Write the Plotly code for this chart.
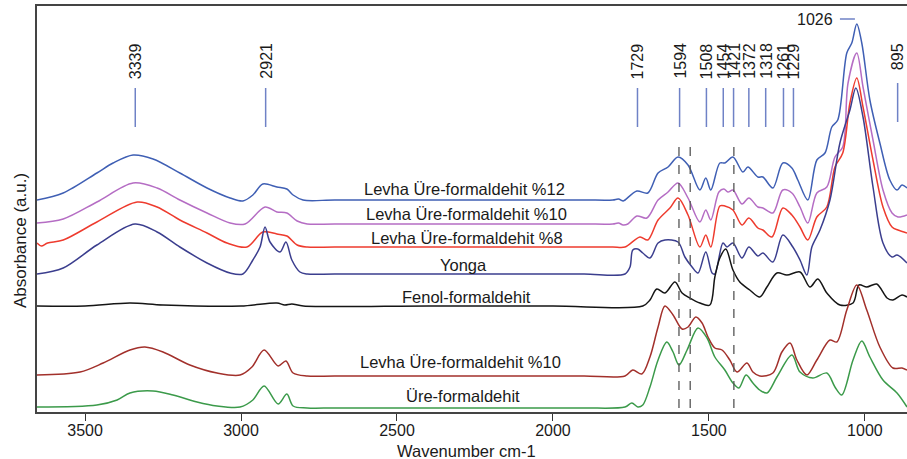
import plotly.graph_objects as go

# ---------------- data (wavenumber cm-1, absorbance a.u.) ----------------
wn_l12 = [3654, 3570, 3462, 3410, 3346, 3282, 3196, 3109, 3035, 2994, 2962, 2930, 2885, 2853, 2833, 2801,
          2700, 2400, 2100, 1900, 1808, 1790, 1775, 1769, 1731, 1696, 1663, 1631, 1599, 1567, 1529, 1510,
          1494, 1465, 1449, 1423, 1391, 1375, 1343, 1327, 1295, 1263, 1234, 1215, 1183, 1154, 1128, 1106,
          1087, 1058, 1042, 1026, 1010, 984, 952, 920, 897, 881, 865]
ab_l12 = [2.12, 2.19, 2.39, 2.49, 2.57, 2.53, 2.39, 2.24, 2.14, 2.11, 2.17, 2.28, 2.25, 2.23, 2.17, 2.12,
          2.12, 2.12, 2.12, 2.12, 2.12, 2.13, 2.11, 2.12, 2.21, 2.19, 2.39, 2.45, 2.55, 2.47, 2.22, 2.34,
          2.22, 2.49, 2.49, 2.55, 2.40, 2.45, 2.35, 2.35, 2.24, 2.49, 2.44, 2.32, 2.12, 2.52, 2.59, 2.85,
          2.92, 3.59, 3.69, 3.88, 3.69, 3.12, 2.69, 2.32, 2.22, 2.27, 2.24]

wn_l10 = [3654, 3570, 3462, 3346, 3269, 3196, 3109, 3035, 2987, 2923, 2885, 2853, 2820, 2788,
          2700, 2400, 2100, 1900, 1808, 1790, 1775, 1760, 1731, 1699, 1663, 1631, 1599, 1567, 1529, 1510,
          1494, 1468, 1452, 1439, 1423, 1394, 1372, 1343, 1327, 1295, 1263, 1234, 1208, 1183, 1154, 1122,
          1096, 1071, 1054, 1026, 1006, 974, 942, 913, 894, 865]
ab_l10 = [1.89, 1.93, 2.10, 2.29, 2.24, 2.12, 1.99, 1.89, 1.88, 2.05, 2.00, 1.99, 1.91, 1.88,
          1.88, 1.88, 1.88, 1.88, 1.88, 1.89, 1.87, 1.88, 1.96, 1.94, 2.12, 2.20, 2.29, 2.14, 1.90, 2.02,
          1.92, 2.20, 2.23, 2.20, 2.22, 2.08, 2.14, 2.05, 2.04, 1.99, 2.22, 2.19, 2.05, 1.89, 2.19, 2.25,
          2.55, 2.65, 3.29, 3.59, 3.25, 2.72, 2.22, 1.99, 1.95, 1.97]

wn_l8 = [3654, 3640, 3620, 3570, 3462, 3333, 3269, 3196, 3109, 3045, 2981, 2930, 2885, 2853, 2820, 2788,
         2700, 2400, 2100, 1900, 1808, 1769, 1721, 1696, 1663, 1625, 1599, 1567, 1529, 1510, 1494, 1465,
         1449, 1423, 1394, 1372, 1343, 1327, 1298, 1263, 1234, 1208, 1183, 1154, 1122, 1096, 1071, 1048,
         1026, 1006, 974, 942, 913, 894, 865]
ab_l8 = [1.69, 1.66, 1.69, 1.72, 1.90, 2.10, 2.05, 1.92, 1.79, 1.69, 1.65, 1.80, 1.78, 1.76, 1.67, 1.65,
         1.65, 1.65, 1.65, 1.65, 1.65, 1.65, 1.75, 1.72, 1.92, 2.04, 2.14, 1.97, 1.65, 1.77, 1.65, 2.06,
         2.06, 2.02, 1.87, 1.94, 1.84, 1.82, 1.75, 2.04, 1.97, 1.85, 1.72, 1.95, 2.05, 2.45, 2.59, 3.09,
         3.34, 3.05, 2.52, 2.05, 1.85, 1.82, 1.79]

wn_yonga = [3654, 3570, 3462, 3340, 3269, 3196, 3109, 3035, 2994, 2962, 2939, 2923, 2907, 2875, 2856, 2837,
            2811, 2788, 2700, 2400, 2100, 1900, 1769, 1753, 1744, 1728, 1712, 1689, 1663, 1641, 1599, 1577,
            1554, 1535, 1510, 1490, 1481, 1455, 1442, 1423, 1394, 1372, 1343, 1327, 1295, 1263, 1231, 1208,
            1186, 1170, 1144, 1112, 1080, 1048, 1029, 1006, 974, 942, 913, 897, 865]
ab_yonga = [1.38, 1.44, 1.67, 1.88, 1.80, 1.65, 1.49, 1.39, 1.38, 1.52, 1.65, 1.85, 1.70, 1.60, 1.70, 1.52,
            1.40, 1.38, 1.38, 1.38, 1.38, 1.38, 1.38, 1.45, 1.62, 1.63, 1.59, 1.54, 1.69, 1.72, 1.70, 1.55,
            1.45, 1.39, 1.60, 1.39, 1.38, 1.69, 1.65, 1.69, 1.54, 1.65, 1.56, 1.59, 1.50, 1.77, 1.65, 1.52,
            1.37, 1.65, 1.82, 2.12, 2.69, 3.02, 3.24, 2.95, 2.25, 1.69, 1.55, 1.57, 1.49]

wn_fenol = [3654, 3500, 3356, 3250, 3000, 2885, 2860, 2837, 2800, 2400, 2000, 1712, 1689, 1667, 1641, 1609,
            1586, 1561, 1529, 1497, 1481, 1465, 1446, 1423, 1401, 1369, 1337, 1314, 1282, 1250, 1208, 1176,
            1151, 1122, 1080, 1038, 1019, 994, 962, 929, 910, 881, 865]
ab_fenol = [1.06, 1.06, 1.09, 1.07, 1.06, 1.09, 1.07, 1.08, 1.06, 1.06, 1.06, 1.06, 1.12, 1.23, 1.19, 1.30,
            1.19, 1.14, 1.09, 1.07, 1.35, 1.54, 1.63, 1.42, 1.30, 1.22, 1.15, 1.25, 1.39, 1.37, 1.40, 1.25,
            1.33, 1.19, 1.07, 1.09, 1.27, 1.25, 1.28, 1.14, 1.12, 1.17, 1.15]

wn_l10b = [3654, 3516, 3442, 3356, 3308, 3250, 3164, 3077, 3003, 2965, 2926, 2881, 2856, 2833, 2788,
           2700, 2400, 2100, 1900, 1769, 1744, 1715, 1689, 1663, 1641, 1615, 1586, 1567, 1542, 1522, 1503,
           1481, 1458, 1433, 1410, 1378, 1359, 1337, 1295, 1266, 1240, 1218, 1186, 1154, 1112, 1090, 1058,
           1026, 994, 952, 910, 881, 865]
ab_l10b = [0.37, 0.40, 0.49, 0.62, 0.65, 0.60, 0.47, 0.39, 0.37, 0.45, 0.62, 0.46, 0.51, 0.39, 0.36,
           0.36, 0.36, 0.36, 0.36, 0.36, 0.42, 0.38, 0.55, 0.85, 1.06, 0.97, 0.83, 0.85, 0.95, 0.89, 0.75,
           0.64, 0.62, 0.52, 0.40, 0.49, 0.40, 0.36, 0.39, 0.60, 0.69, 0.52, 0.37, 0.52, 0.72, 0.70, 1.02,
           1.27, 1.02, 0.65, 0.44, 0.44, 0.42]

wn_ure = [3654, 3462, 3397, 3356, 3282, 3218, 3141, 3077, 3003, 2962, 2926, 2881, 2853, 2833, 2788,
          2700, 2400, 2100, 1900, 1769, 1747, 1728, 1712, 1689, 1663, 1635, 1615, 1596, 1570, 1535, 1506,
          1481, 1449, 1423, 1404, 1381, 1359, 1337, 1314, 1282, 1234, 1208, 1167, 1122, 1096, 1074, 1038,
          1010, 984, 942, 897, 865]
ab_ure = [0.05, 0.07, 0.12, 0.19, 0.21, 0.17, 0.10, 0.06, 0.05, 0.12, 0.26, 0.08, 0.18, 0.06, 0.04,
          0.04, 0.04, 0.04, 0.04, 0.05, 0.09, 0.05, 0.07, 0.25, 0.52, 0.70, 0.60, 0.47, 0.62, 0.84, 0.74,
          0.55, 0.42, 0.29, 0.24, 0.37, 0.29, 0.22, 0.19, 0.35, 0.57, 0.40, 0.34, 0.39, 0.25, 0.17, 0.52,
          0.71, 0.55, 0.32, 0.19, 0.05]

series_names = ["Levha Üre-formaldehit %12", "Levha Üre-formaldehit %10", "Levha Üre-formaldehit %8",
                "Yonga", "Fenol-formaldehit", "Levha Üre-formaldehit %10", "Üre-formaldehit"]
series_wn = [wn_l12, wn_l10, wn_l8, wn_yonga, wn_fenol, wn_l10b, wn_ure]
series_ab = [ab_l12, ab_l10, ab_l8, ab_yonga, ab_fenol, ab_l10b, ab_ure]
series_colors = ["#3f5fb4", "#b56dc4", "#ee3b2e", "#3b3e8e", "#151515", "#a2302b", "#3b9a4a"]
# label positions (wavenumber, absorbance)
label_wn = [2282, 2276, 2276, 2288, 2276, 2295, 2288]
label_ab = [2.23, 1.98, 1.74, 1.47, 1.15, 0.50, 0.16]

peak_labels = [3339, 2921, 1729, 1594, 1508, 1454, 1421, 1372, 1318, 1261, 1229]
dashed_wn = [1596, 1560, 1420]

x_ticks = [3500, 3000, 2500, 2000, 1500, 1000]

FONT = "Liberation Sans, Arial, sans-serif"
TXT = "#1a1a1a"

fig = go.Figure()
for name, w, a, c in zip(series_names, series_wn, series_ab, series_colors):
    fig.add_trace(go.Scatter(x=w, y=a, mode="lines", name=name,
                             line=dict(color=c, width=1.5, shape="spline", smoothing=0.9),
                             showlegend=False, hoverinfo="skip"))

ann = []
for name, lx, ly in zip(series_names, label_wn, label_ab):
    ann.append(dict(x=lx, y=ly, xref="x", yref="y", text=name, showarrow=False,
                    font=dict(family=FONT, size=16.5, color=TXT), xanchor="center", yanchor="middle"))

shapes = []
LINE_C = "#6f82c6"
for p in peak_labels:
    ann.append(dict(x=p, y=3.31, xref="x", yref="y", text=str(p), showarrow=False, textangle=-90,
                    font=dict(family=FONT, size=16, color=TXT), xanchor="center", yanchor="bottom"))
    shapes.append(dict(type="line", xref="x", yref="y", x0=p, x1=p, y0=2.85, y1=3.24,
                       line=dict(color=LINE_C, width=1.5)))
# 895 label (slightly higher)
ann.append(dict(x=895, y=3.40, xref="x", yref="y", text="895", showarrow=False, textangle=-90,
                font=dict(family=FONT, size=16, color=TXT), xanchor="center", yanchor="bottom"))
shapes.append(dict(type="line", xref="x", yref="y", x0=895, x1=895, y0=2.90, y1=3.29,
                   line=dict(color=LINE_C, width=1.5)))
# 1026 label (horizontal)
ann.append(dict(x=1095, y=3.93, xref="x", yref="y", text="1026", showarrow=False,
                font=dict(family=FONT, size=16, color=TXT), xanchor="right", yanchor="middle"))
shapes.append(dict(type="line", xref="x", yref="y", x0=1080, x1=1032, y0=3.93, y1=3.93,
                   line=dict(color=LINE_C, width=1.5)))

for d in dashed_wn:
    shapes.append(dict(type="line", xref="x", yref="y", x0=d, x1=d, y0=0.04, y1=2.69,
                       line=dict(color="#555555", width=1.3, dash="dash")))

# axis titles
ann.append(dict(x=-17 / 870, y=1.71, xref="paper", yref="y", text="Absorbance (a.u.)", showarrow=False,
                textangle=-90, font=dict(family=FONT, size=17, color=TXT), xanchor="center", yanchor="middle"))
ann.append(dict(x=2277, y=-39 / 406, xref="x", yref="paper", text="Wavenumber cm-1", showarrow=False,
                font=dict(family=FONT, size=16.5, color=TXT), xanchor="center", yanchor="middle"))

fig.update_layout(
    width=907, height=459,
    margin=dict(l=37, r=0, t=6, b=47),
    paper_bgcolor="white", plot_bgcolor="white",
    annotations=ann, shapes=shapes,
    xaxis=dict(range=[3654, 865], tickvals=x_ticks, ticktext=[str(t) for t in x_ticks],
               ticks="outside", ticklen=7, tickwidth=1.3, tickcolor="#333333",
               ticklabelstandoff=-4,
               showline=True, linecolor="#444444", linewidth=1.5, mirror=True,
               showgrid=False, zeroline=False,
               tickfont=dict(family=FONT, size=16, color=TXT)),
    yaxis=dict(range=[0, 4.06], showticklabels=False, ticks="", showgrid=False, zeroline=False,
               showline=True, linecolor="#444444", linewidth=1.5, mirror=False),
)

fig.write_html("out.html")
